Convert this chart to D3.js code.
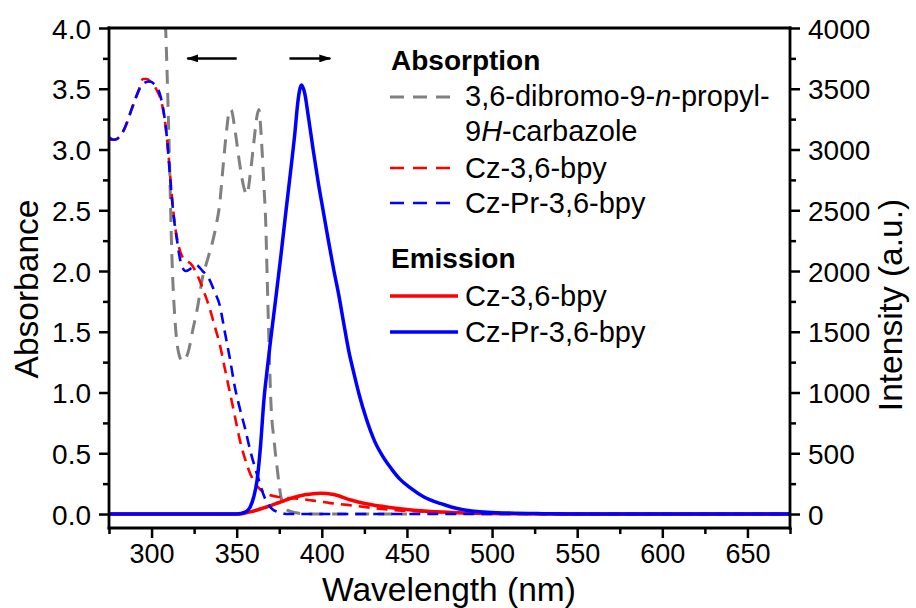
<!DOCTYPE html>
<html><head><meta charset="utf-8">
<script src="https://cdn.jsdelivr.net/npm/d3@7"></script>
<style>
body{margin:0;background:#fff;}
svg{font-family:"Liberation Sans",Arial,sans-serif;}
</style></head>
<body>
<svg id="c" width="916" height="608"></svg>
<script>
// ---------- data ----------
const xTicks = [300,350,400,450,500,550,600,650];
const yLeftTicks = [0,0.5,1,1.5,2,2.5,3,3.5,4];
const yRightTicks = [0,500,1000,1500,2000,2500,3000,3500,4000];

// Absorption: 3,6-dibromo-9-n-propyl-9H-carbazole  [wavelength, absorbance]
const absDibromo = [[306,4.6],[308,4.1],[310,3.2],[312,2.1],[314,1.55],[316,1.32],[318,1.26],[320,1.28],[322,1.36],[324,1.5],[327,1.7],[330,1.95],[333,2.1],[336,2.25],[338,2.38],[340,2.55],[342,2.86],[344,3.15],[346,3.33],[347,3.32],[349,3.16],[352,2.86],[354,2.7],[356,2.63],[358,2.8],[360,3.05],[362,3.28],[363,3.33],[364,3.2],[365,2.97],[366,2.7],[367,2.42],[368,1.9],[369,1.4],[370,0.95],[372,0.6],[374,0.35],[376,0.14],[378,0.06],[380,0.03],[385,0.01],[390,0],[450,0]];
// Absorption: Cz-3,6-bpy
const absCz = [[275,3.08],[278,3.08],[282,3.12],[285,3.2],[288,3.32],[292,3.47],[295,3.58],[297,3.58],[300,3.55],[303,3.49],[306,3.38],[308,3.22],[310,2.95],[312,2.6],[314,2.35],[316,2.2],[318,2.12],[321,2.08],[323,2.06],[325,2.02],[328,1.93],[331,1.82],[334,1.7],[337,1.55],[340,1.4],[343,1.2],[346,1.0],[349,0.8],[352,0.6],[355,0.45],[358,0.33],[361,0.25],[364,0.2],[368,0.165],[375,0.14],[387,0.125],[395,0.11],[405,0.09],[415,0.075],[430,0.05],[445,0.03],[460,0.02],[480,0.01],[500,0.005],[550,0],[675,0]];
// Absorption: Cz-Pr-3,6-bpy
const absCzPr = [[275,3.1],[278,3.08],[281,3.1],[284,3.17],[287,3.28],[290,3.4],[293,3.5],[296,3.55],[299,3.56],[302,3.53],[305,3.45],[307,3.32],[309,3.1],[311,2.75],[313,2.45],[315,2.25],[317,2.08],[320,2.0],[323,2.02],[326,2.05],[330,2.0],[334,1.93],[337,1.83],[340,1.72],[343,1.5],[346,1.28],[349,1.04],[352,0.86],[355,0.7],[358,0.52],[361,0.37],[363,0.28],[366,0.15],[368,0.09],[371,0.04],[376,0.01],[380,0],[675,0]];
// Emission: Cz-3,6-bpy  [wavelength, intensity]
const emCz = [[275,0],[350,0],[354,5],[360,25],[368,60],[375,95],[382,130],[390,158],[399,172],[407,160],[417,115],[426,85],[436,62],[450,38],[464,20],[480,10],[495,5],[520,2],[560,0],[675,0]];
// Emission: Cz-Pr-3,6-bpy
const emCzPr = [[275,0],[350,0],[355,15],[358,60],[360,140],[362,280],[364,560],[366,940],[368,1200],[370,1440],[373,1780],[376,2130],[379,2500],[382,2860],[384,3110],[386,3400],[387,3490],[388,3530],[390,3460],[392,3280],[395,2990],[398,2720],[401,2480],[404,2240],[407,2010],[410,1800],[413,1560],[416,1330],[419,1150],[422,980],[426,790],[431,600],[436,470],[441,370],[446,285],[452,215],[460,140],[470,85],[476,58],[483,35],[495,16],[510,8],[530,3],[550,0],[675,0]];

// ---------- layout ----------
const L=109, R=790, T=28, B=528;
const svg = d3.select("#c");
const x = d3.scaleLinear().domain([275,675]).range([L,R]);
const yA = d3.scaleLinear().domain([-0.115,4.0]).range([B,T]);
const yI = d3.scaleLinear().domain([-115,4000]).range([B,T]);

const defs = svg.append("defs");
defs.append("clipPath").attr("id","clip")
  .append("rect").attr("x",L).attr("y",T).attr("width",R-L).attr("height",B-T);

const plot = svg.append("g").attr("clip-path","url(#clip)");
const lineA = d3.line().x(d=>x(d[0])).y(d=>yA(d[1])).curve(d3.curveMonotoneX);
const lineI = d3.line().x(d=>x(d[0])).y(d=>yI(d[1])).curve(d3.curveMonotoneX);

plot.append("path").datum(absDibromo).attr("d",lineA).attr("fill","none")
  .attr("stroke","#808080").attr("stroke-width",3).attr("stroke-dasharray","14,9");
plot.append("path").datum(emCz).attr("d",lineI).attr("fill","none")
  .attr("stroke","#ff0000").attr("stroke-width",3.5);
plot.append("path").datum(absCz).attr("d",lineA).attr("fill","none")
  .attr("stroke","#ff0000").attr("stroke-width",2.6).attr("stroke-dasharray","11,7");
plot.append("path").datum(absCzPr).attr("d",lineA).attr("fill","none")
  .attr("stroke","#0000ff").attr("stroke-width",2.6).attr("stroke-dasharray","11,7");
plot.append("path").datum(emCzPr).attr("d",lineI).attr("fill","none")
  .attr("stroke","#0000ff").attr("stroke-width",3.5);

// ---------- axes ----------
const fs = 28;
function styleAxis(g){
  g.select(".domain").remove();
  g.selectAll("line").attr("stroke","#000").attr("stroke-width",2.5);
  g.selectAll("text").attr("font-size",fs).attr("fill","#000").attr("font-family","Liberation Sans, Arial, sans-serif");
}
const fmtA = d3.format(".1f");
const xMinor = d3.range(275,676,25).filter(v=>v%50!==0);
const aMinor = d3.range(0.25,4,0.5);
const iMinor = d3.range(250,4000,500);

const gx = svg.append("g").attr("transform",`translate(0,${B})`)
  .call(d3.axisBottom(x).tickValues(xTicks).tickSize(10).tickPadding(6).tickFormat(d3.format("d")));
styleAxis(gx);
gx.selectAll("text").attr("font-size",27);
svg.append("g").attr("transform",`translate(0,${B})`)
  .call(d3.axisBottom(x).tickValues(xMinor).tickSize(6).tickFormat("")).call(styleAxis);

const gy = svg.append("g").attr("transform",`translate(${L},0)`)
  .call(d3.axisLeft(yA).tickValues(yLeftTicks).tickSize(10).tickPadding(8).tickFormat(fmtA));
styleAxis(gy);
gy.selectAll("text").attr("dy","0.36em");
svg.append("g").attr("transform",`translate(${L},0)`)
  .call(d3.axisLeft(yA).tickValues(aMinor).tickSize(6).tickFormat("")).call(styleAxis);

const gr = svg.append("g").attr("transform",`translate(${R},0)`)
  .call(d3.axisRight(yI).tickValues(yRightTicks).tickSize(10).tickPadding(8).tickFormat(d3.format("d")));
styleAxis(gr);
gr.selectAll("text").attr("dy","0.36em");
svg.append("g").attr("transform",`translate(${R},0)`)
  .call(d3.axisRight(yI).tickValues(iMinor).tickSize(6).tickFormat("")).call(styleAxis);

// frame lines
const frame = svg.append("g").attr("stroke","#000").attr("stroke-width",2.8).attr("stroke-linecap","square");
frame.append("line").attr("x1",L).attr("x2",R).attr("y1",T).attr("y2",T);
frame.append("line").attr("x1",L).attr("x2",R).attr("y1",B).attr("y2",B);
frame.append("line").attr("x1",L).attr("x2",L).attr("y1",T).attr("y2",B);
frame.append("line").attr("x1",R).attr("x2",R).attr("y1",T).attr("y2",B);

// axis titles
const tfs = 33.5;
svg.append("text").attr("x",449).attr("y",601).attr("text-anchor","middle")
  .attr("font-size",tfs).text("Wavelength (nm)");
svg.append("text").attr("transform",`translate(38,289) rotate(-90)`).attr("text-anchor","middle")
  .attr("font-size",tfs).text("Absorbance");
svg.append("text").attr("transform",`translate(902,305) rotate(-90)`).attr("text-anchor","middle")
  .attr("font-size",tfs).text("Intensity (a.u.)");

// arrows
defs.append("marker").attr("id","ah").attr("viewBox","0 0 12 8").attr("refX",11).attr("refY",4)
  .attr("markerUnits","userSpaceOnUse").attr("markerWidth",12).attr("markerHeight",8).attr("orient","auto")
  .append("path").attr("d","M0,0L12,4L0,8Z").attr("fill","#000");
const arrowY = 3.75;
svg.append("line").attr("x1",x(350)).attr("x2",x(321)).attr("y1",yA(arrowY)).attr("y2",yA(arrowY))
  .attr("stroke","#000").attr("stroke-width",2.5).attr("marker-end","url(#ah)");
svg.append("line").attr("x1",x(381)).attr("x2",x(405)).attr("y1",yA(arrowY)).attr("y2",yA(arrowY))
  .attr("stroke","#000").attr("stroke-width",2.5).attr("marker-end","url(#ah)");

// legend
const lfs = 29;
const lg = svg.append("g").attr("font-size",lfs);
lg.append("text").attr("x",391).attr("y",70).attr("font-weight","bold").attr("font-size",28).text("Absorption");
lg.append("text").attr("x",391).attr("y",268).attr("font-weight","bold").attr("font-size",28).text("Emission");
const items = [
  {y:97, color:"#808080", dash:"14,9", w:3, x2:452},
  {y:168, color:"#ff0000", dash:"14,9", w:2.6, x2:452},
  {y:203, color:"#0000ff", dash:"14,9", w:2.6, x2:452},
  {y:296, color:"#ff0000", dash:null, w:3.5, x2:458},
  {y:332, color:"#0000ff", dash:null, w:3.5, x2:458}
];
items.forEach(it=>{
  const l = lg.append("line").attr("x1",390).attr("x2",it.x2).attr("y1",it.y).attr("y2",it.y)
    .attr("stroke",it.color).attr("stroke-width",it.w);
  if(it.dash) l.attr("stroke-dasharray",it.dash);
});
const t1 = lg.append("text").attr("x",465).attr("y",106);
t1.append("tspan").text("3,6-dibromo-9-");
t1.append("tspan").attr("font-style","italic").text("n");
t1.append("tspan").text("-propyl-");
const t2 = lg.append("text").attr("x",465).attr("y",141);
t2.append("tspan").text("9");
t2.append("tspan").attr("font-style","italic").text("H");
t2.append("tspan").text("-carbazole");
lg.append("text").attr("x",465).attr("y",178).text("Cz-3,6-bpy");
lg.append("text").attr("x",465).attr("y",213).text("Cz-Pr-3,6-bpy");
lg.append("text").attr("x",465).attr("y",306).text("Cz-3,6-bpy");
lg.append("text").attr("x",465).attr("y",342).text("Cz-Pr-3,6-bpy");
</script>
</body></html>
